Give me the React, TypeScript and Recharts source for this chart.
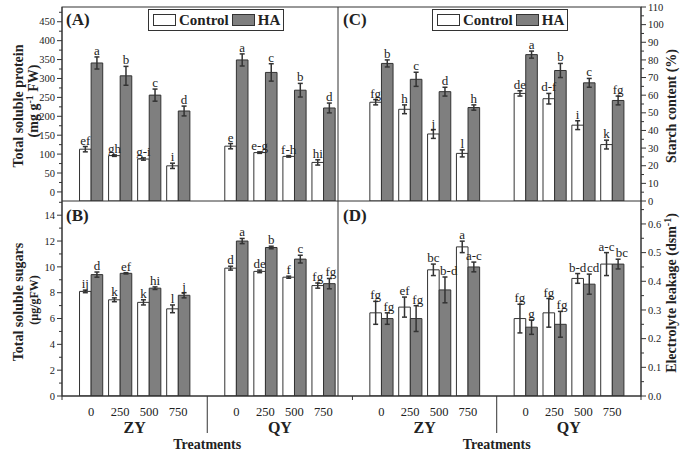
import React from "react";
import { Bar, BarChart, ErrorBar, LabelList, Legend, XAxis, YAxis } from "recharts";

const FONT = "'Liberation Serif', 'Times New Roman', serif";
const INK = "#222";
const LINE = "#333";
const HA_FILL = "#7f7f7f";

// figure frame (px)
const W = 685;
const H = 452;
const X0 = 62;
const XM = 338;
const X1 = 641;
const Y0 = 7;
const YM = 201;
const Y1 = 396;
const AXIS_W = 40;
const XAXIS_H = 52;
const LETTER_SIZE = 13;

const slots = [1, 2, 3, 4, 6, 7, 8, 9];
const doses = ["0", "250", "500", "750", "0", "250", "500", "750"];
const cultivars = ["ZY", "QY"];

// (A) total soluble protein
const proteinControl = [113, 96, 87, 69, 121, 104, 94, 78];
const proteinControlErr = [7, 2, 3, 7, 7, 2, 2, 7];
const proteinHA = [341, 307, 256, 214, 349, 316, 269, 222];
const proteinHAErr = [16, 25, 16, 13, 16, 23, 18, 13];
const proteinControlLetters = ["ef", "gh", "g-i", "i", "e", "e-g", "f-h", "hi"];
const proteinHALetters = ["a", "b", "c", "d", "a", "c", "b", "d"];

// (B) total soluble sugars
const sugarControl = [8.1, 7.45, 7.25, 6.75, 9.9, 9.65, 9.2, 8.55];
const sugarControlErr = [0.1, 0.15, 0.2, 0.3, 0.15, 0.1, 0.08, 0.2];
const sugarHA = [9.4, 9.5, 8.35, 7.8, 12.0, 11.5, 10.6, 8.7];
const sugarHAErr = [0.2, 0.05, 0.1, 0.2, 0.2, 0.1, 0.3, 0.4];
const sugarControlLetters = ["ij", "k", "k", "l", "d", "de", "f", "fg"];
const sugarHALetters = ["d", "ef", "hi", "j", "a", "b", "c", "fg"];

// (C) starch content
const starchControl = [56, 52, 38, 27, 61, 58, 43, 32];
const starchControlErr = [1.5, 2.5, 2.5, 2, 1.5, 3, 2.5, 2.5];
const starchHA = [78, 69, 62, 53, 83, 74, 67, 57];
const starchHAErr = [2, 4, 2.5, 1.5, 2, 4, 2.5, 2.5];
const starchControlLetters = ["fg", "h", "j", "l", "de", "d-f", "i", "k"];
const starchHALetters = ["b", "c", "d", "h", "a", "b", "c", "fg"];

// (D) electrolyte leakage
const leakControl = [0.29, 0.31, 0.44, 0.52, 0.27, 0.29, 0.41, 0.46];
const leakControlErr = [0.04, 0.035, 0.02, 0.02, 0.05, 0.05, 0.017, 0.04];
const leakHA = [0.27, 0.27, 0.37, 0.45, 0.24, 0.25, 0.39, 0.46];
const leakHAErr = [0.02, 0.045, 0.045, 0.017, 0.025, 0.045, 0.035, 0.017];
const leakControlLetters = ["fg", "ef", "bc", "a", "fg", "fg", "b-d", "a-c"];
const leakHALetters = ["fg", "fg", "b-d", "a-c", "g", "fg", "cd", "bc"];

const proteinTicks = [0, 50, 100, 150, 200, 250, 300, 350, 400, 450];
const sugarTicks = [0, 2, 4, 6, 8, 10, 12, 14];
const starchTicks = [0, 10, 20, 30, 40, 50, 60, 70, 80, 90, 100, 110];
const leakTicks = [0, 0.1, 0.2, 0.3, 0.4, 0.5, 0.6];

type Row = Record<string, number | string | number[]>;

type Series = { values: number[]; errs: number[]; letters: string[] };

function buildRows(ctrl: Series, ha: Series, base?: number): Row[] {
  return slots.map((pos, i) => ({
    pos,
    dose: doses[i],
    control: base === undefined ? ctrl.values[i] : [base, ctrl.values[i]],
    controlErr: ctrl.errs[i],
    controlLetter: ctrl.letters[i],
    ha: base === undefined ? ha.values[i] : [base, ha.values[i]],
    haErr: ha.errs[i],
    haLetter: ha.letters[i],
  }));
}

function minorsOf(majors: number[], top: number) {
  const step = majors[1] - majors[0];
  const out: number[] = [];
  for (let v = majors[0] + step / 2; v < top; v += step) out.push(Math.round(v * 1000) / 1000);
  return out;
}

function makeYTick(side: "left" | "right", majors: number[], fmt: (v: number) => string) {
  return (props: any) => {
    const { x, y, payload } = props;
    const v = payload.value as number;
    const major = majors.some((m) => Math.abs(m - v) < 1e-6);
    const dir = side === "left" ? -1 : 1;
    const len = major ? 5 : 3;
    return (
      <g>
        <line x1={x} x2={x + dir * len} y1={y} y2={y} stroke={LINE} />
        {major && (
          <text
            x={x + dir * 7}
            y={y}
            dy="0.35em"
            textAnchor={side === "left" ? "end" : "start"}
            fontSize={10.5}
            fontFamily={FONT}
            fill={INK}
          >
            {fmt(v)}
          </text>
        )}
      </g>
    );
  };
}

function XTick(props: any) {
  const { x, y, payload } = props;
  const v = payload.value as number;
  if (v === 5) return <line x1={x} x2={x} y1={y} y2={y + 37} stroke={LINE} />;
  const i = slots.indexOf(v);
  if (i < 0) return <line x1={x} x2={x} y1={y} y2={y + 4} stroke={LINE} />;
  return (
    <text x={x} y={y + 20} textAnchor="middle" fontSize={12.5} fontFamily={FONT} fill={INK}>
      {doses[i]}
    </text>
  );
}

// rough width of a significance letter string in px
const letterWidth = (s: string) =>
  s.split("").reduce((w, c) => w + (c === "-" ? 0.33 : 0.47) * LETTER_SIZE, 0);

function makeLetter(own: Series, partner: Series, base: number, isHA: boolean) {
  return (props: any) => {
    const vb = props.viewBox && props.viewBox.height !== undefined ? props.viewBox : props;
    const { x, y, width, height } = vb;
    const i = props.index as number;
    const h = Math.abs(height);
    const topY = Math.min(y, y + height);
    const bottomY = topY + h;
    const perUnit = h / (own.values[i] - base);
    const errTop = topY - own.errs[i] * perUnit;
    let dx = 0;
    if (isHA) {
      // push the HA letters right when they would collide with the control letters
      const partnerTop = bottomY - (partner.values[i] + partner.errs[i] - base) * perUnit;
      const overlap = (letterWidth(own.letters[i]) + letterWidth(partner.letters[i])) / 2 + 1 - width;
      if (Math.abs(partnerTop - errTop) < LETTER_SIZE && overlap > 0) dx = overlap;
    }
    return (
      <text
        x={x + width / 2 + dx}
        y={errTop - 2}
        textAnchor="middle"
        fontSize={LETTER_SIZE}
        fontFamily={FONT}
        fill={INK}
      >
        {props.value}
      </text>
    );
  };
}

function LegendBox(props: any) {
  const payload = props.payload || [];
  return (
    <div
      style={{
        boxSizing: "border-box",
        border: `1px solid ${LINE}`,
        height: 22,
        display: "flex",
        alignItems: "center",
        padding: "0 4px",
        background: "#fff",
        fontFamily: FONT,
        fontWeight: "bold",
        fontSize: 15,
        color: INK,
      }}
    >
      {payload.map((p: any) => (
        <span key={p.value} style={{ display: "flex", alignItems: "center", marginRight: 3 }}>
          <span
            style={{
              display: "inline-block",
              width: 21,
              height: 10,
              border: `1px solid ${LINE}`,
              background: p.color,
              marginRight: 3,
            }}
          />
          {p.value}
        </span>
      ))}
    </div>
  );
}

type PanelProps = {
  ctrl: Series;
  ha: Series;
  side: "left" | "right";
  row: "top" | "bottom";
  yDomain: [number, number];
  majors: number[];
  fmt: (v: number) => string;
  rangeBase?: number;
  legendLeft?: number;
};

function Panel({ ctrl, ha, side, row, yDomain, majors, fmt, rangeBase, legendLeft }: PanelProps) {
  const left = side === "left";
  const top = row === "top";
  const rows = buildRows(ctrl, ha, rangeBase);
  const base = rangeBase ?? 0;
  const margin = {
    top: top ? Y0 : YM,
    bottom: top ? H - YM : H - Y1 - XAXIS_H,
    left: left ? X0 - AXIS_W : XM,
    right: left ? W - XM : W - X1 - AXIS_W,
  };
  const xDomain = left ? [0, 9.5] : [-0.5, 10];
  const xTicks = left ? [0, 1, 2, 3, 4, 5, 6, 7, 8, 9] : [0, 1, 2, 3, 4, 5, 6, 7, 8, 9, 10];
  const yTicks = [...majors, ...minorsOf(majors, yDomain[1])].sort((a, b) => a - b);
  return (
    <div style={{ position: "absolute", left: 0, top: 0 }}>
      <BarChart width={W} height={H} data={rows} margin={margin} barSize={11.6} barGap={0}>
        <XAxis
          type="number"
          dataKey="pos"
          domain={xDomain}
          ticks={xTicks}
          interval={0}
          hide={top}
          height={XAXIS_H}
          tickSize={0}
          tickMargin={0}
          tick={XTick}
          stroke={LINE}
          allowDataOverflow
        />
        <YAxis
          type="number"
          orientation={side}
          width={AXIS_W}
          domain={yDomain}
          ticks={yTicks}
          interval={0}
          tickSize={0}
          tickMargin={0}
          tick={makeYTick(side, majors, fmt)}
          stroke={LINE}
          allowDataOverflow
        />
        {legendLeft !== undefined && (
          <Legend
            layout="vertical"
            align="center"
            verticalAlign="middle"
            content={LegendBox}
            wrapperStyle={{ left: legendLeft, top: 9, width: 136 }}
          />
        )}
        <Bar dataKey="control" name="Control" fill="#ffffff" stroke={LINE} legendType="rect" isAnimationActive={false}>
          <ErrorBar dataKey="controlErr" width={2.5} stroke={LINE} direction="y" />
          <LabelList dataKey="controlLetter" content={makeLetter(ctrl, ha, base, false)} />
        </Bar>
        <Bar dataKey="ha" name="HA" fill={HA_FILL} stroke={LINE} legendType="rect" isAnimationActive={false}>
          <ErrorBar dataKey="haErr" width={2.5} stroke={LINE} direction="y" />
          <LabelList dataKey="haLetter" content={makeLetter(ha, ctrl, base, true)} />
        </Bar>
      </BarChart>
    </div>
  );
}

const leftPx = (v: number) => X0 + (v * (XM - X0)) / 9.5;
const rightPx = (v: number) => XM + ((v + 0.5) * (X1 - XM)) / 10.5;

function Overlay() {
  const bold = { fontFamily: FONT, fontWeight: "bold" as const, fill: INK };
  return (
    <svg width={W} height={H} style={{ position: "absolute", left: 0, top: 0, pointerEvents: "none" }}>
      <rect x={X0} y={Y0} width={X1 - X0} height={Y1 - Y0} fill="none" stroke={LINE} />
      <line x1={XM} x2={XM} y1={Y0} y2={Y1} stroke={LINE} />
      <line x1={X0} x2={X1} y1={YM} y2={YM} stroke={LINE} />

      <text x={66} y={25} fontSize={17} {...bold}>(A)</text>
      <text x={66} y={221} fontSize={17} {...bold}>(B)</text>
      <text x={343} y={25} fontSize={17} {...bold}>(C)</text>
      <text x={343} y={221} fontSize={17} {...bold}>(D)</text>

      {[leftPx, rightPx].map((px, k) => (
        <g key={k}>
          {cultivars.map((c, j) => (
            <text key={c} x={px(j === 0 ? 2.5 : 7.5)} y={433} textAnchor="middle" fontSize={16} {...bold}>
              {c}
            </text>
          ))}
          <text x={px(5)} y={449} textAnchor="middle" fontSize={14} {...bold}>
            Treatments
          </text>
        </g>
      ))}

      <text transform="translate(23,106) rotate(-90)" textAnchor="middle" fontSize={14} {...bold}>
        Total soluble protein
      </text>
      <text transform="translate(38,101) rotate(-90)" textAnchor="middle" fontSize={14} {...bold}>
        (mg g<tspan dy={-5} fontSize={10}>-1</tspan>
        <tspan dy={5}> FW)</tspan>
      </text>
      <text transform="translate(23,302) rotate(-90)" textAnchor="middle" fontSize={14} {...bold}>
        Total soluble sugars
      </text>
      <text transform="translate(38,300) rotate(-90)" textAnchor="middle" fontSize={12} {...bold}>
        (µg/gFW)
      </text>
      <text transform="translate(676,106) rotate(-90)" textAnchor="middle" fontSize={14} {...bold}>
        Starch content (%)
      </text>
      <text transform="translate(676,293) rotate(-90)" textAnchor="middle" fontSize={14} {...bold}>
        Electrolyte leakage (dsm<tspan dy={-5} fontSize={10}>-1</tspan>
        <tspan dy={5}>)</tspan>
      </text>
    </svg>
  );
}

const series = (values: number[], errs: number[], letters: string[]): Series => ({ values, errs, letters });

export default function App() {
  return (
    <div style={{ position: "absolute", left: 0, top: 0, width: W, height: H, background: "#fff", overflow: "hidden" }}>
      <Panel
        ctrl={series(proteinControl, proteinControlErr, proteinControlLetters)}
        ha={series(proteinHA, proteinHAErr, proteinHALetters)}
        side="left"
        row="top"
        yDomain={[-24, 489]}
        majors={proteinTicks}
        fmt={(v) => String(v)}
        rangeBase={-24}
        legendLeft={148}
      />
      <Panel
        ctrl={series(sugarControl, sugarControlErr, sugarControlLetters)}
        ha={series(sugarHA, sugarHAErr, sugarHALetters)}
        side="left"
        row="bottom"
        yDomain={[0, 15.1]}
        majors={sugarTicks}
        fmt={(v) => String(v)}
      />
      <Panel
        ctrl={series(starchControl, starchControlErr, starchControlLetters)}
        ha={series(starchHA, starchHAErr, starchHALetters)}
        side="right"
        row="top"
        yDomain={[0, 110]}
        majors={starchTicks}
        fmt={(v) => String(v)}
        legendLeft={432}
      />
      <Panel
        ctrl={series(leakControl, leakControlErr, leakControlLetters)}
        ha={series(leakHA, leakHAErr, leakHALetters)}
        side="right"
        row="bottom"
        yDomain={[0, 0.68]}
        majors={leakTicks}
        fmt={(v) => v.toFixed(1)}
      />
      <Overlay />
    </div>
  );
}
